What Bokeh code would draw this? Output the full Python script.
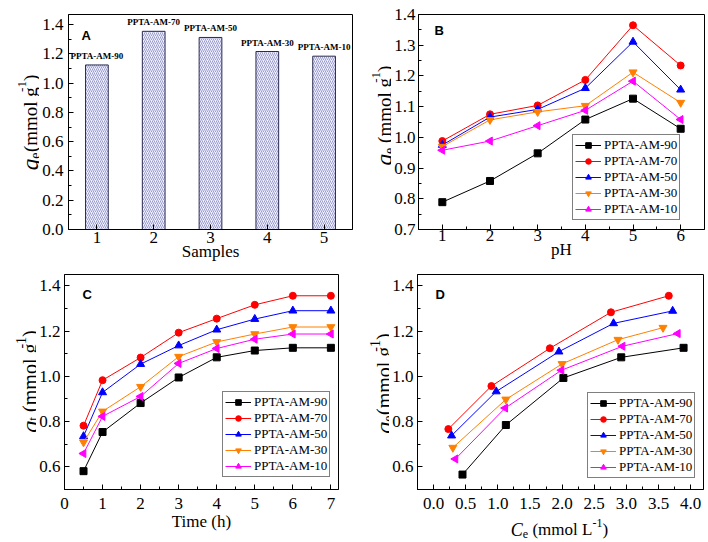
import numpy as np
from bokeh.plotting import figure
from bokeh.models import Label, Legend, LegendItem, FixedTicker, Range1d, PrintfTickFormatter
from bokeh.layouts import row, column
from bokeh.embed import file_html
from bokeh.resources import INLINE

# ---------------- data ----------------
series = ["PPTA-AM-90", "PPTA-AM-70", "PPTA-AM-50", "PPTA-AM-30", "PPTA-AM-10"]
colors = ["#000000", "#ff0000", "#0000ff", "#ff8000", "#ff00ff"]
markers = ["square", "circle", "triangle", "inverted_triangle", "triangle"]
marker_angles = [0, 0, 0, 0, np.pi / 2]
marker_sizes = [7, 7, 8, 8, 8]

# Panel A
samples = [1, 2, 3, 4, 5]
qe_samples = [1.125, 1.355, 1.313, 1.217, 1.185]

# Panel B
ph = [1, 2, 3, 4, 5, 6]
qe_ph_90 = [0.789, 0.858, 0.948, 1.058, 1.126, 1.028]
qe_ph_70 = [0.988, 1.075, 1.104, 1.187, 1.365, 1.234]
qe_ph_50 = [0.975, 1.066, 1.091, 1.160, 1.311, 1.155]
qe_ph_30 = [0.970, 1.057, 1.083, 1.103, 1.212, 1.113]
qe_ph_10 = [0.958, 0.988, 1.038, 1.088, 1.183, 1.058]

# Panel C
time_h = [0.5, 1, 2, 3, 4, 5, 6, 7]
qt_90 = [0.581, 0.754, 0.882, 0.995, 1.084, 1.114, 1.126, 1.126]
qt_70 = [0.782, 0.983, 1.083, 1.193, 1.255, 1.316, 1.356, 1.356]
qt_50 = [0.735, 0.929, 1.054, 1.136, 1.206, 1.253, 1.290, 1.290]
qt_30 = [0.709, 0.845, 0.954, 1.087, 1.152, 1.187, 1.218, 1.218]
qt_10 = [0.659, 0.823, 0.911, 1.057, 1.123, 1.164, 1.187, 1.187]

# Panel D
ce_90 = [0.45, 1.125, 2.02, 2.92, 3.89]
qe_ce_90 = [0.566, 0.785, 0.993, 1.084, 1.126]
ce_70 = [0.23, 0.90, 1.81, 2.76, 3.66]
qe_ce_70 = [0.767, 0.957, 1.124, 1.283, 1.356]
ce_50 = [0.28, 0.975, 1.95, 2.80, 3.72]
qe_ce_50 = [0.738, 0.933, 1.109, 1.234, 1.289]
ce_30 = [0.30, 1.125, 2.00, 2.87, 3.57]
qe_ce_30 = [0.685, 0.898, 1.055, 1.162, 1.215]
ce_10 = [0.34, 1.115, 1.99, 2.94, 3.80]
qe_ce_10 = [0.635, 0.860, 1.027, 1.133, 1.189]

SERIF = "Liberation Serif"
SANS = "Liberation Sans"


def make_fig(w, h, xr, yr, bl, br, bt, bb, xt, xminor, yt, yminor, xfmt, yfmt,
             xstand, ystand, title_stand):
    p = figure(width=w, height=h, x_range=Range1d(*xr), y_range=Range1d(*yr),
               output_backend="svg", toolbar_location=None,
               min_border_left=bl, min_border_right=br,
               min_border_top=bt, min_border_bottom=bb)
    p.grid.visible = False
    p.outline_line_color = "black"
    p.background_fill_color = "white"
    p.border_fill_color = "white"
    p.xaxis.ticker = FixedTicker(ticks=xt, minor_ticks=xminor)
    p.yaxis.ticker = FixedTicker(ticks=yt, minor_ticks=yminor)
    p.xaxis.formatter = PrintfTickFormatter(format=xfmt)
    p.yaxis.formatter = PrintfTickFormatter(format=yfmt)
    for ax in (p.xaxis[0], p.yaxis[0]):
        ax.axis_line_color = "black"
        ax.major_tick_in = 5
        ax.major_tick_out = 0
        ax.minor_tick_in = 3
        ax.minor_tick_out = 0
        ax.major_tick_line_color = "black"
        ax.minor_tick_line_color = "black"
        ax.major_label_text_font = SERIF
        ax.major_label_text_font_size = "17px"
        ax.major_label_text_color = "black"
        ax.axis_label_text_font = SERIF
        ax.axis_label_text_font_size = "17px"
        ax.axis_label_text_font_style = "normal"
        ax.axis_label_text_color = "black"
        ax.axis_label_standoff = title_stand
    p.xaxis[0].major_label_standoff = xstand
    p.yaxis[0].major_label_standoff = ystand
    return p


def label_fig(w, h):
    # text-only canvas; its frame lines up with the neighbouring plot's frame
    f = figure(width=w, height=h, x_range=Range1d(0, 1), y_range=Range1d(0, 1),
               output_backend="svg", toolbar_location=None,
               x_axis_location=None, y_axis_location=None, min_border=0,
               outline_line_color=None, background_fill_color="white",
               border_fill_color="white")
    f.grid.visible = False
    return f


def mk(text, x, y, size, style, angle=0.0):
    return Label(x=x, y=y, x_units="screen", y_units="screen", angle=angle, text=text,
                 text_font=SERIF, text_font_size=f"{size}px", text_font_style=style,
                 text_baseline="alphabetic", text_align="left", text_color="black")


def vlabel(f, pieces, bx, cy):
    total = sum(adv for *_, adv in pieces)
    y = cy - total / 2
    for text, size, style, shift, adv in pieces:
        f.add_layout(mk(text, bx + shift, y, size, style, angle=np.pi / 2))
        y += adv


def hlabel(f, pieces, cx, by):
    total = sum(adv for *_, adv in pieces)
    x = cx - total / 2
    for text, size, style, shift, adv in pieces:
        f.add_layout(mk(text, x, by + shift, size, style))
        x += adv


def panel_letter(p, text, x, ytop):
    p.add_layout(Label(x=x, y=ytop, x_units="screen", y_units="screen", text=text,
                       text_font=SANS, text_font_style="bold", text_font_size="13px",
                       text_baseline="top", text_align="left", text_color="black"))


def add_series(p, xs_list, ys_list, loc):
    items = []
    for i in range(5):
        r1 = p.line(xs_list[i], ys_list[i], line_color=colors[i], line_width=1)
        r2 = p.scatter(xs_list[i], ys_list[i], marker=markers[i], size=marker_sizes[i],
                       angle=marker_angles[i], fill_color=colors[i], line_color=colors[i])
        items.append(LegendItem(label=series[i], renderers=[r1, r2]))
    lg = Legend(items=items, location=loc, label_text_font=SERIF,
                label_text_font_size="13px", label_text_color="black",
                label_text_line_height=1.05,
                border_line_color="black", border_line_width=1,
                background_fill_color="white", background_fill_alpha=1,
                padding=2, spacing=0, margin=0, glyph_width=26, glyph_height=14,
                label_height=14, label_standoff=3)
    p.add_layout(lg)


def ylab_pieces(sub, gap, s):
    # q_sub (mmol g^-1); advances in px (Times metrics)
    q, sub_s, sup_s = round(s * 1.2), round(s * 0.72), round(s * 0.68)
    sub_w = (0.444 if sub == "e" else 0.278) * sub_s + (0.25 * s if gap else 0.5)
    return [("q", q, "italic", 0, 0.5 * q),
            (sub, sub_s, "normal", round(s * 0.2), sub_w),
            ("(mmol g", s, "normal", 0, 3.167 * s),
            ("-1", sup_s, "normal", -round(s * 0.47), 0.833 * sup_s),
            (")", s, "normal", 0, 0.333 * s)]


XL_D = [("C", 18, "italic", 0, 12.0), ("e", 12, "normal", -4, 9.6),
        ("(mmol L", 17, "normal", 0, 60.0), ("-1", 12, "normal", 7, 10.0),
        (")", 17, "normal", 0, 5.7)]

# ---------------- Panel A ----------------
WA, HA, blA, brA, btA, bbA = 315, 271, 27, 2, 14, 42
pA = make_fig(WA, HA, (0.5, 5.5), (0, 1.47), blA, brA, btA, bbA,
              samples, [], [0, 0.2, 0.4, 0.6, 0.8, 1.0, 1.2, 1.4],
              [0.1, 0.3, 0.5, 0.7, 0.9, 1.1, 1.3], "%d", "%.1f", 2, 5, -4)
pA.xaxis.axis_label = "Samples"
pA.vbar(x=samples, top=qe_samples, width=0.4, fill_color="#f2f2fa",
        line_color="#2a2a50", line_width=1, hatch_pattern="/",
        hatch_color="#7474c4", hatch_scale=4, hatch_weight=0.7)
for xv, yv, name in zip(samples, qe_samples, series):
    pA.add_layout(Label(x=xv, y=yv, y_offset=4, text=name, text_font=SERIF,
                        text_font_style="bold", text_font_size="9px",
                        text_align="center", text_baseline="bottom", text_color="black"))
fhA = HA - btA - bbA
panel_letter(pA, "A", 13, fhA - 13)
lA = label_fig(39, HA)
vlabel(lA, ylab_pieces("e", False, 19), 30, 229 - 122)

# ---------------- Panel B ----------------
WB, HB, blB, brB, btB, bbB = 315, 271, 26, 2, 14, 42
pB = make_fig(WB, HB, (0.5, 6.5), (0.7, 1.4), blB, brB, btB, bbB,
              ph, [1.5, 2.5, 3.5, 4.5, 5.5],
              [0.7, 0.8, 0.9, 1.0, 1.1, 1.2, 1.3, 1.4],
              [0.75, 0.85, 0.95, 1.05, 1.15, 1.25, 1.35], "%d", "%.1f", 0, 3, -4)
pB.xaxis.axis_label = "pH"
add_series(pB, [ph] * 5, [qe_ph_90, qe_ph_70, qe_ph_50, qe_ph_30, qe_ph_10], (154, 9))
fhB = HB - btB - bbB
panel_letter(pB, "B", 16, fhB - 8)
lB = label_fig(37, HB)
vlabel(lB, ylab_pieces("e", True, 19), 30, 229 - 115)

# ---------------- Panel C ----------------
WC, HC, blC, brC, btC, bbC = 318, 269, 26, 16, 3, 51
pC = make_fig(WC, HC, (0, 7.2), (0.5, 1.45), blC, brC, btC, bbC,
              [0, 1, 2, 3, 4, 5, 6, 7], [0.5, 1.5, 2.5, 3.5, 4.5, 5.5, 6.5],
              [0.6, 0.8, 1.0, 1.2, 1.4], [0.5, 0.7, 0.9, 1.1, 1.3], "%d", "%.1f", 8, 4, 0)
pC.xaxis.axis_label = "Time (h)"
add_series(pC, [time_h] * 5, [qt_90, qt_70, qt_50, qt_30, qt_10], (158, 12))
fhC = HC - btC - bbC
panel_letter(pC, "C", 18, fhC - 12)
lC = label_fig(36, HC)
vlabel(lC, ylab_pieces("t", True, 20), 29, 489 - 381)

# ---------------- Panel D ----------------
WD, HD, blD, brD, btD, bbD = 317, 245, 26, 3, 3, 27
pD = make_fig(WD, HD, (-0.25, 4.2), (0.5, 1.45), blD, brD, btD, bbD,
              [0.0, 0.5, 1.0, 1.5, 2.0, 2.5, 3.0, 3.5, 4.0],
              [-0.25, 0.25, 0.75, 1.25, 1.75, 2.25, 2.75, 3.25, 3.75],
              [0.6, 0.8, 1.0, 1.2, 1.4], [0.5, 0.7, 0.9, 1.1, 1.3], "%.1f", "%.1f", 8, 4, 0)
add_series(pD, [ce_90, ce_70, ce_50, ce_30, ce_10],
           [qe_ce_90, qe_ce_70, qe_ce_50, qe_ce_30, qe_ce_10], (170, 11))
fhD = HD - btD - bbD
panel_letter(pD, "D", 18, fhD - 12)
lD = label_fig(35, HD)
vlabel(lD, ylab_pieces("e", False, 20), 29, 489 - 383)
xD = label_fig(352, 24)
hlabel(xD, XL_D, 205, 11)

layout = column(
    row(lA, pA, lB, pB),
    row(lC, pC, column(row(lD, pD), xD)),
)
open("out.html", "w").write(file_html(layout, INLINE))
